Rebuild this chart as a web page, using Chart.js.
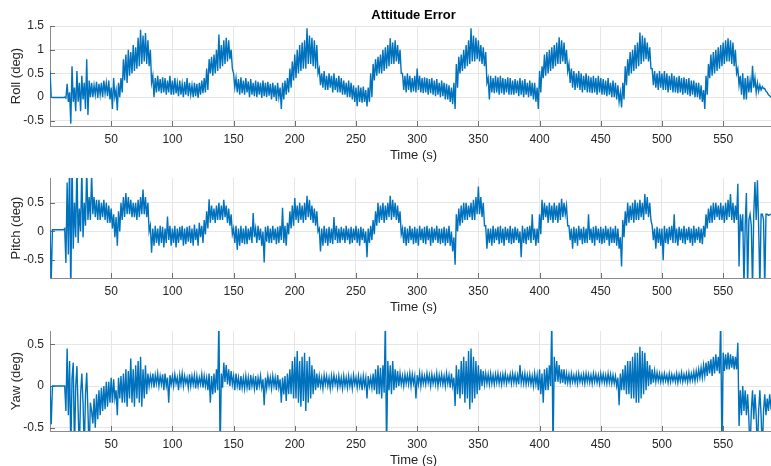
<!DOCTYPE html>
<html>
<head>
<meta charset="utf-8">
<title>Attitude Error</title>
<script src="https://cdn.jsdelivr.net/npm/chart.js@4.4.0/dist/chart.umd.min.js"></script>
<style>
  body { margin: 0; background: #fff; }
  #wrap { position: relative; width: 771px; height: 466px; overflow: hidden; }
  #wrap canvas { position: absolute; left: 0; }
  .title { position: absolute; left: 0; width: 827px; top: 7px; line-height: 18px; text-align: center;
           font: bold 13px "Liberation Sans", Arial, sans-serif; color: #000; }
</style>
</head>
<body>
<div id="wrap">
  <canvas id="rollChart" width="777" height="165"></canvas>
  <canvas id="pitchChart" width="777" height="165"></canvas>
  <canvas id="yawChart" width="777" height="165"></canvas>
  <div class="title">Attitude Error</div>
</div>
<script>
// readings, one value per second: *Even at t = 0,2,4.. and *Odd at t = 1,3,5..
const timeMax = 594;
const timeTicks = [50, 100, 150, 200, 250, 300, 350, 400, 450, 500, 550];

const rollTicks = [-0.5, 0, 0.5, 1, 1.5];
const pitchTicks = [-0.5, 0, 0.5];
const yawTicks = [-0.5, 0, 0.5];

const rollRange = [-0.61, 1.5];
const pitchRange = [-0.81, 0.93];
const yawRange = [-0.54, 0.66];

const rollEven = [
  0.55, -0.01, -0.01, -0.01, -0.01, -0.01, 0.0, 0.28, 0.1, 0.65,
  0.2, 0.55, 0.3, 0.45, 0.3, 0.8, 0.35, 0.3, 0.25, 0.32,
  0.28, 0.3, 0.35, 0.3, 0.35, 0.2, 0.4, 0.15, 0.3, 0.4,
  0.8, 0.9, 1.0, 0.95, 1.1, 1.05, 1.25, 1.42, 1.3, 1.35,
  1.2, 1.0, 0.45, 0.4, 0.45, 0.38, 0.42, 0.4, 0.35, 0.45,
  0.35, 0.4, 0.3, 0.35, 0.28, 0.32, 0.4, 0.3, 0.25, 0.3,
  0.28, 0.3, 0.35, 0.4, 0.6, 0.8, 0.85, 0.9, 1.0, 1.32,
  1.1, 1.2, 1.25, 1.2, 1.0, 0.5, 0.4, 0.38, 0.42, 0.35,
  0.4, 0.33, 0.38, 0.3, 0.35, 0.32, 0.3, 0.35, 0.3, 0.32,
  0.28, 0.3, 0.25, 0.3, 0.2, 0.3, 0.35, 0.4, 0.6, 0.75,
  0.9, 1.0, 1.1, 1.15, 1.2, 1.45, 1.3, 1.25, 1.2, 1.1,
  0.6, 0.5, 0.55, 0.45, 0.5, 0.45, 0.5, 0.4, 0.45, 0.4,
  0.35, 0.3, 0.35, 0.3, 0.25, 0.2, 0.25, 0.2, 0.22, 0.15,
  0.2, 0.5, 0.7, 0.8, 0.85, 0.9, 1.0, 1.05, 1.1, 1.24,
  1.15, 1.2, 1.1, 1.0, 0.5, 0.45, 0.5, 0.45, 0.4, 0.45,
  0.6, 0.45, 0.4, 0.42, 0.4, 0.38, 0.4, 0.35, 0.38, 0.3,
  0.35, 0.3, 0.28, 0.25, 0.2, 0.3, 0.7, 0.85, 0.9, 1.0,
  1.1, 1.2, 1.45, 1.3, 1.25, 1.2, 1.1, 1.05, 0.95, 0.4,
  0.45, 0.4, 0.45, 0.42, 0.45, 0.4, 0.38, 0.42, 0.4, 0.35,
  0.38, 0.35, 0.4, 0.35, 0.38, 0.3, 0.35, 0.3, 0.3, 0.2,
  0.55, 0.65, 0.9, 0.95, 1.0, 1.05, 1.1, 1.15, 1.26, 1.2,
  1.15, 1.0, 0.7, 0.6, 0.55, 0.5, 0.55, 0.5, 0.45, 0.5,
  0.45, 0.42, 0.45, 0.4, 0.45, 0.4, 0.38, 0.35, 0.4, 0.3,
  0.35, 0.3, 0.25, 0.1, 0.3, 0.65, 0.8, 0.95, 1.0, 1.1,
  1.15, 1.36, 1.3, 1.25, 1.15, 1.05, 0.6, 0.55, 0.5, 0.55,
  0.5, 0.55, 0.5, 0.45, 0.5, 0.45, 0.42, 0.45, 0.4, 0.42,
  0.38, 0.4, 0.35, 0.35, 0.3, 0.3, 0.25, 0.15, 0.45, 0.7,
  0.9, 0.95, 1.0, 1.05, 1.1, 1.15, 1.2, 1.24, 1.2, 1.15,
  1.0, 0.6, 0.45, 0.5, 0.4, 0.45, 0.35, 0.66, 0.4, 0.3,
  0.25, 0.22, 0.18, 0.1, 0.03, 0.0, -0.01, -0.02
];
const rollOdd = [
  0.0, -0.01, -0.01, -0.01, -0.01, -0.01, -0.02, -0.1, -0.56, -0.1,
  -0.3, -0.1, -0.3, -0.05, -0.25, -0.38, 0.0, 0.0, 0.05, -0.02,
  0.05, 0.0, 0.08, 0.02, -0.05, -0.25, 0.0, -0.28, 0.0, 0.1,
  0.35, 0.3, 0.45, 0.5, 0.55, 0.6, 0.65, 0.7, 0.75, 0.7,
  0.65, 0.3, 0.0, 0.1, 0.12, 0.08, 0.1, 0.05, 0.1, 0.05,
  0.05, 0.08, 0.02, 0.05, 0.0, 0.05, 0.02, 0.05, 0.0, 0.02,
  -0.02, 0.05, 0.08, 0.1, 0.15, 0.5, 0.45, 0.5, 0.55, 0.6,
  0.65, 0.7, 0.75, 0.8, 0.6, 0.2, 0.1, 0.05, 0.08, 0.05,
  0.1, 0.0, 0.05, 0.02, 0.0, 0.05, -0.02, 0.02, 0.0, 0.03,
  -0.05, 0.0, -0.08, 0.0, -0.25, -0.05, 0.05, 0.1, 0.2, 0.35,
  0.4, 0.5, 0.55, 0.6, 0.6, 0.7, 0.7, 0.65, 0.6, 0.5,
  0.25, 0.2, 0.15, 0.15, 0.2, 0.1, 0.15, 0.1, 0.1, 0.05,
  0.05, 0.0, 0.0, -0.05, -0.1, -0.19, -0.1, -0.12, -0.1, -0.2,
  -0.1, 0.0, 0.35, 0.45, 0.5, 0.5, 0.55, 0.6, 0.65, 0.7,
  0.7, 0.75, 0.7, 0.5, 0.15, 0.1, 0.15, 0.1, 0.12, 0.1,
  0.15, 0.1, 0.08, 0.1, 0.05, 0.08, 0.05, 0.02, 0.05, 0.0,
  0.02, -0.05, -0.05, -0.1, -0.15, -0.25, 0.2, 0.5, 0.55, 0.6,
  0.65, 0.7, 0.75, 0.75, 0.8, 0.75, 0.7, 0.65, 0.3, -0.05,
  0.1, 0.08, 0.1, 0.05, 0.08, 0.05, 0.1, 0.05, 0.05, 0.05,
  0.08, 0.02, 0.05, 0.0, 0.05, 0.0, 0.02, -0.05, -0.1, -0.25,
  0.1, 0.4, 0.45, 0.5, 0.55, 0.6, 0.65, 0.7, 0.7, 0.75,
  0.7, 0.55, 0.3, 0.2, 0.15, 0.2, 0.15, 0.1, 0.15, 0.1,
  0.1, 0.08, 0.1, 0.05, 0.1, 0.05, 0.05, 0.02, 0.05, 0.0,
  0.0, -0.05, -0.1, -0.22, -0.05, 0.25, 0.45, 0.5, 0.55, 0.6,
  0.65, 0.7, 0.75, 0.8, 0.75, 0.6, 0.25, 0.2, 0.15, 0.2,
  0.15, 0.15, 0.1, 0.15, 0.1, 0.1, 0.08, 0.1, 0.05, 0.08,
  0.05, 0.02, 0.05, 0.0, 0.0, -0.05, -0.1, -0.25, 0.05, 0.4,
  0.45, 0.5, 0.55, 0.6, 0.65, 0.7, 0.75, 0.75, 0.7, 0.65,
  0.5, 0.25, 0.05, -0.05, -0.05, 0.1, 0.1, 0.2, 0.1, 0.12,
  0.15, 0.18, 0.12, 0.05, 0.0, -0.01, -0.02, -0.02
];

const pitchEven = [
  0.03, 0.03, 0.03, 0.03, 0.03, 0.03, 0.05, 0.85, 1.3, 1.3,
  0.5, 1.2, 0.4, 1.1, 0.5, 1.1, 0.6, 1.0, 0.6, 0.55,
  0.55, 0.5, 0.55, 0.5, 0.45, 0.4, 0.3, 0.25, 0.35, 0.5,
  0.6, 0.67, 0.6, 0.55, 0.5, 0.5, 0.55, 0.6, 0.73, 0.6,
  0.5, 0.1, 0.05, 0.1, 0.05, 0.1, 0.08, 0.05, 0.26, 0.1,
  0.05, 0.1, 0.05, 0.08, 0.1, 0.05, 0.08, 0.1, 0.05, 0.12,
  0.05, 0.15, 0.1, 0.2, 0.35, 0.56, 0.45, 0.4, 0.45, 0.5,
  0.45, 0.55, 0.45, 0.4, 0.3, 0.05, 0.1, 0.05, 0.1, 0.05,
  0.1, 0.05, 0.08, 0.32, 0.05, 0.1, 0.05, 0.0, 0.08, 0.1,
  0.05, 0.1, 0.05, 0.08, 0.1, 0.41, 0.1, 0.15, 0.35, 0.45,
  0.58, 0.45, 0.5, 0.45, 0.5, 0.62, 0.55, 0.45, 0.4, 0.35,
  0.05, 0.05, 0.1, 0.05, 0.08, 0.05, 0.25, 0.1, 0.05, 0.08,
  0.05, 0.1, 0.05, 0.08, 0.05, 0.1, 0.05, 0.08, 0.05, 0.0,
  0.05, 0.1, 0.2, 0.35, 0.5, 0.45, 0.5, 0.45, 0.5, 0.62,
  0.55, 0.5, 0.45, 0.35, 0.05, 0.08, 0.05, 0.1, 0.05, 0.08,
  0.05, 0.1, 0.05, 0.08, 0.1, 0.05, 0.08, 0.05, 0.1, 0.05,
  0.05, 0.08, 0.05, 0.1, 0.0, -0.1, 0.3, 0.4, 0.45, 0.5,
  0.5, 0.45, 0.5, 0.55, 0.6, 0.78, 0.6, 0.5, 0.1, 0.05,
  0.05, 0.1, 0.05, 0.08, 0.1, 0.05, 0.08, 0.05, 0.1, 0.05,
  0.08, 0.05, 0.0, 0.1, 0.05, 0.08, 0.1, 0.3, 0.05, 0.05,
  0.3, 0.55, 0.5, 0.45, 0.5, 0.45, 0.5, 0.45, 0.5, 0.57,
  0.5, 0.45, 0.1, 0.05, 0.08, 0.05, 0.1, 0.05, 0.08, 0.05,
  0.3, 0.05, 0.08, 0.1, 0.05, 0.08, 0.05, 0.1, 0.05, 0.08,
  0.05, 0.1, 0.05, -0.1, 0.2, 0.35, 0.5, 0.45, 0.5, 0.55,
  0.5, 0.55, 0.5, 0.65, 0.6, 0.5, 0.1, 0.05, 0.08, 0.05,
  0.05, 0.1, 0.05, 0.08, 0.1, 0.3, 0.05, 0.08, 0.05, 0.1,
  0.05, 0.08, 0.05, 0.1, 0.05, 0.08, 0.05, 0.1, 0.3, 0.4,
  0.45, 0.5, 0.5, 0.45, 0.5, 0.45, 0.5, 0.55, 0.65, 0.5,
  0.45, 0.83, 0.3, 0.3, 0.1, -1.0, 0.3, -1.0, 0.86, 0.89,
  -1.0, 0.3, -1.0, 0.3, 0.29, 0.3, 0.3, 0.3
];
const pitchOdd = [
  -0.85, 0.03, 0.03, 0.03, 0.03, 0.03, -0.55, -0.4, -1.2, -0.3,
  -0.1, -0.2, 0.0, -0.1, 0.1, 0.2, 0.2, 0.3, 0.25, 0.2,
  0.2, 0.25, 0.2, 0.15, 0.15, 0.05, -0.1, -0.25, 0.0, 0.2,
  0.25, 0.3, 0.3, 0.25, 0.25, 0.2, 0.25, 0.3, 0.3, 0.25,
  0.0, -0.37, -0.25, -0.2, -0.25, -0.2, -0.28, -0.2, -0.15, -0.25,
  -0.2, -0.28, -0.2, -0.15, -0.25, -0.22, -0.18, -0.2, -0.25, -0.15,
  -0.25, -0.1, -0.2, -0.05, 0.05, 0.15, 0.2, 0.15, 0.2, 0.2,
  0.2, 0.25, 0.15, 0.1, -0.05, -0.2, -0.32, -0.25, -0.2, -0.22,
  -0.22, -0.15, -0.2, -0.1, -0.2, -0.15, -0.25, -0.54, -0.18, -0.2,
  -0.2, -0.15, -0.22, -0.2, -0.15, -0.2, -0.25, -0.05, 0.05, 0.1,
  0.2, 0.15, 0.2, 0.15, 0.2, 0.25, 0.2, 0.15, 0.1, 0.0,
  -0.35, -0.25, -0.2, -0.25, -0.2, -0.22, -0.15, -0.2, -0.2, -0.15,
  -0.2, -0.15, -0.22, -0.2, -0.15, -0.2, -0.25, -0.15, -0.2, -0.45,
  -0.2, -0.15, -0.05, 0.1, 0.15, 0.2, 0.15, 0.2, 0.25, 0.2,
  0.25, 0.2, 0.15, -0.05, -0.2, -0.25, -0.2, -0.15, -0.22, -0.2,
  -0.25, -0.15, -0.2, -0.22, -0.15, -0.25, -0.2, -0.15, -0.2, -0.22,
  -0.2, -0.25, -0.2, -0.25, -0.35, -0.58, 0.0, 0.1, 0.15, 0.2,
  0.2, 0.25, 0.2, 0.2, 0.3, 0.3, 0.25, 0.1, -0.3, -0.2,
  -0.25, -0.2, -0.15, -0.22, -0.2, -0.25, -0.15, -0.2, -0.22, -0.2,
  -0.15, -0.2, -0.45, -0.2, -0.22, -0.15, -0.2, -0.15, -0.25, -0.2,
  -0.05, 0.2, 0.25, 0.15, 0.2, 0.15, 0.2, 0.15, 0.2, 0.25,
  0.3, 0.1, -0.15, -0.3, -0.2, -0.25, -0.15, -0.22, -0.2, -0.2,
  -0.15, -0.2, -0.25, -0.15, -0.2, -0.22, -0.2, -0.15, -0.25, -0.2,
  -0.2, -0.25, -0.3, -0.61, -0.1, 0.1, 0.15, 0.2, 0.15, 0.2,
  0.2, 0.25, 0.2, 0.3, 0.25, 0.2, -0.15, -0.3, -0.2, -0.25,
  -0.5, -0.2, -0.22, -0.15, -0.2, -0.2, -0.25, -0.15, -0.2, -0.22,
  -0.15, -0.2, -0.25, -0.2, -0.15, -0.2, -0.22, -0.1, 0.05, 0.15,
  0.15, 0.2, 0.25, 0.2, 0.2, 0.15, 0.2, 0.25, 0.2, 0.15,
  0.2, -0.61, 0.0, -1.0, 0.67, 0.2, 0.1, 0.3, 0.2, 0.1,
  0.3, 0.2, 0.3, 0.28, 0.3, 0.29, 0.3, 0.3
];

const yawEven = [
  0.0, 0.0, 0.0, 0.0, 0.0, 0.0, 0.0, 0.45, 0.3, 0.1,
  -0.8, 0.24, -0.8, 0.15, -0.8, 0.16, -0.8, -0.3, -0.15, -0.1,
  -0.05, -0.02, 0.0, 0.05, 0.05, 0.1, 0.08, -0.05, 0.1, 0.12,
  0.15, 0.2, 0.18, 0.33, 0.2, 0.25, 0.3, 0.35, 0.2, 0.25,
  0.15, 0.12, 0.15, 0.13, 0.15, 0.12, 0.14, 0.15, 0.1, 0.13,
  0.12, 0.14, 0.1, 0.13, 0.15, 0.12, 0.1, 0.14, 0.12, 0.13,
  0.12, 0.1, 0.14, 0.12, 0.1, 0.15, 0.12, 0.15, 0.2, 0.8,
  0.15, 0.28, 0.25, 0.2, 0.18, 0.12, 0.15, 0.1, 0.12, 0.1,
  0.12, 0.1, 0.13, 0.1, 0.12, 0.1, 0.12, 0.08, 0.1, 0.12,
  0.1, 0.12, 0.1, 0.13, 0.08, 0.1, 0.12, 0.15, 0.2, 0.3,
  0.35, 0.42, 0.3, 0.35, 0.4, 0.3, 0.35, 0.25, 0.2, 0.15,
  0.12, 0.1, 0.13, 0.12, 0.1, 0.12, 0.13, 0.1, 0.12, 0.1,
  0.12, 0.1, 0.12, 0.1, 0.13, 0.1, 0.12, 0.1, 0.12, 0.1,
  0.12, 0.1, 0.15, 0.2, 0.25, 0.22, 0.25, 0.8, 0.3, 0.25,
  0.3, 0.2, 0.18, 0.15, 0.12, 0.14, 0.13, 0.15, 0.14, 0.12,
  0.13, 0.15, 0.14, 0.12, 0.15, 0.13, 0.14, 0.12, 0.15, 0.13,
  0.14, 0.12, 0.15, 0.13, 0.15, 0.1, 0.25, 0.2, 0.3, 0.35,
  0.3, 0.42, 0.45, 0.35, 0.3, 0.25, 0.2, 0.18, 0.15, 0.14,
  0.15, 0.13, 0.14, 0.15, 0.13, 0.14, 0.15, 0.12, 0.14, 0.15,
  0.14, 0.13, 0.25, 0.14, 0.15, 0.13, 0.14, 0.12, 0.15, 0.13,
  0.2, 0.15, 0.2, 0.22, 0.25, 0.8, 0.35, 0.3, 0.25, 0.2,
  0.2, 0.15, 0.14, 0.15, 0.13, 0.14, 0.15, 0.13, 0.14, 0.15,
  0.14, 0.13, 0.15, 0.14, 0.13, 0.15, 0.14, 0.13, 0.15, 0.14,
  0.13, 0.12, 0.1, 0.15, 0.2, 0.25, 0.3, 0.3, 0.35, 0.4,
  0.4, 0.47, 0.42, 0.4, 0.3, 0.25, 0.2, 0.18, 0.16, 0.15,
  0.14, 0.15, 0.13, 0.15, 0.14, 0.13, 0.15, 0.14, 0.16, 0.14,
  0.15, 0.16, 0.15, 0.17, 0.18, 0.2, 0.22, 0.25, 0.28, 0.3,
  0.32, 0.35, 0.38, 0.35, 0.8, 0.4, 0.38, 0.4, 0.38, 0.36,
  0.35, 0.52, -0.05, 0.0, -0.05, -0.1, -0.8, -0.05, -0.1, -0.8,
  -0.05, -0.8, -0.1, -0.15, -0.1, -0.2, -0.12, -0.15
];
const yawOdd = [
  -0.46, 0.0, 0.0, 0.0, 0.0, 0.0, -0.3, -0.35, -0.8, 0.28,
  0.0, -0.3, -0.1, -0.2, -0.1, -0.3, -0.2, -0.45, -0.5, -0.4,
  -0.35, -0.3, -0.28, -0.25, -0.2, -0.2, -0.15, -0.35, -0.15, -0.2,
  -0.2, -0.25, -0.15, -0.2, -0.25, -0.15, -0.2, -0.25, -0.15, -0.1,
  0.0, 0.02, -0.02, 0.03, 0.0, 0.02, -0.05, 0.0, -0.2, 0.02,
  0.0, 0.03, -0.05, 0.02, 0.0, 0.03, -0.02, 0.0, 0.02, -0.03,
  0.0, 0.02, -0.02, 0.0, -0.05, -0.2, -0.1, -0.08, -0.05, -0.8,
  -0.02, 0.05, 0.02, 0.0, 0.02, -0.05, 0.0, -0.05, -0.02, -0.03,
  -0.02, -0.05, 0.0, -0.03, -0.05, 0.0, -0.02, -0.23, -0.03, 0.0,
  -0.03, 0.0, -0.05, -0.02, -0.2, -0.1, -0.18, -0.1, -0.1, -0.15,
  -0.15, -0.2, -0.25, -0.18, -0.3, -0.2, -0.15, -0.1, -0.05, -0.02,
  0.0, -0.03, 0.02, 0.0, -0.03, 0.0, 0.02, -0.02, 0.0, -0.03,
  0.0, -0.02, 0.0, -0.03, 0.02, -0.02, 0.0, -0.05, 0.0, -0.15,
  0.0, -0.02, -0.05, -0.1, -0.1, -0.15, -0.08, -0.8, -0.05, -0.1,
  -0.05, -0.02, 0.0, 0.02, 0.0, 0.03, 0.02, 0.0, 0.03, -0.15,
  0.02, 0.0, 0.03, 0.02, 0.04, 0.0, 0.03, 0.02, 0.0, 0.03,
  0.02, 0.0, 0.03, -0.02, 0.0, -0.24, -0.1, -0.15, -0.1, -0.2,
  -0.15, -0.28, -0.2, -0.15, -0.1, -0.05, 0.0, 0.02, 0.03, 0.02,
  0.03, 0.02, 0.04, 0.03, 0.02, 0.04, 0.03, 0.05, 0.03, 0.04,
  0.03, 0.02, 0.04, 0.03, 0.02, 0.03, 0.02, 0.0, 0.02, -0.05,
  -0.1, -0.2, -0.05, -0.05, 0.0, -0.8, 0.05, 0.05, 0.03, 0.04,
  0.02, 0.04, 0.03, 0.05, 0.04, 0.03, 0.05, 0.04, 0.03, 0.05,
  0.04, 0.03, 0.05, 0.04, 0.03, 0.05, 0.04, 0.03, 0.04, 0.03,
  0.03, 0.0, -0.23, -0.05, -0.05, -0.1, -0.1, -0.15, -0.15, -0.2,
  -0.2, -0.15, -0.1, -0.05, 0.0, 0.02, 0.04, 0.05, 0.06, 0.05,
  0.05, 0.06, 0.04, 0.05, 0.06, 0.05, 0.04, 0.06, 0.05, 0.06,
  0.05, 0.06, 0.07, 0.06, 0.08, 0.1, 0.1, 0.12, 0.12, 0.15,
  0.12, 0.15, 0.18, 0.15, -0.8, 0.18, 0.2, 0.2, 0.22, 0.2,
  0.2, -0.48, -0.35, -0.3, -0.35, -0.4, -0.3, -0.4, -0.35, -0.3,
  -0.35, -0.3, -0.35, -0.3, -0.25, -0.15, -0.15, -0.15
];

const lineColor = '#0072BD';
const gridColor = '#e6e6e6';
const axisColor = '#8a8a8a';
const textColor = '#262626';
const fontFamily = '"Liberation Sans", Arial, Helvetica, sans-serif';

// even and odd second readings back into one time series
function toPoints(evenVals, oddVals) {
  const pts = [];
  evenVals.forEach((v, i) => {
    pts.push({ x: i * 2, y: v });
    pts.push({ x: i * 2 + 1, y: oddVals[i] });
  });
  return pts;
}

// small inward tick marks like matlab
const tickMarks = {
  id: 'tickMarks',
  beforeDatasetsDraw(chart) {
    const { ctx, chartArea, scales: { x, y } } = chart;
    ctx.save();
    ctx.strokeStyle = '#6e6e6e';
    ctx.lineWidth = 1;
    ctx.beginPath();
    x.ticks.forEach(t => {
      const px = Math.round(x.getPixelForValue(t.value)) + 0.5;
      ctx.moveTo(px, chartArea.bottom);
      ctx.lineTo(px, chartArea.bottom - 5);
    });
    y.ticks.forEach(t => {
      const py = Math.round(y.getPixelForValue(t.value)) + 0.5;
      ctx.moveTo(chartArea.left, py);
      ctx.lineTo(chartArea.left + 5, py);
    });
    ctx.stroke();
    ctx.restore();
  }
};

function makePanel(id, top, evenVals, oddVals, range, ticks, label) {
  const canvas = document.getElementById(id);
  canvas.style.top = top + 'px';
  return new Chart(canvas, {
    type: 'line',
    data: {
      datasets: [{
        data: toPoints(evenVals, oddVals),
        borderColor: lineColor,
        borderWidth: 1.4,
        pointRadius: 0,
        tension: 0
      }]
    },
    options: {
      responsive: false,
      animation: false,
      devicePixelRatio: 1,
      layout: { padding: { top: 26, left: 0, right: 0, bottom: 0 } },
      plugins: { legend: { display: false }, tooltip: { enabled: false } },
      scales: {
        x: {
          type: 'linear',
          min: 0,
          max: timeMax,
          afterFit: s => { s.height = 39; },
          afterBuildTicks: s => { s.ticks = timeTicks.map(v => ({ value: v })); },
          grid: { color: gridColor, drawTicks: false },
          border: { color: axisColor },
          ticks: { padding: 6, color: textColor, font: { family: fontFamily, size: 12 }, maxRotation: 0, autoSkip: false },
          title: { display: true, text: 'Time (s)', color: textColor, font: { family: fontFamily, size: 13 }, padding: { top: 0, bottom: 2 } }
        },
        y: {
          type: 'linear',
          min: range[0],
          max: range[1],
          afterFit: s => { s.width = 50; },
          afterBuildTicks: s => { s.ticks = ticks.map(v => ({ value: v })); },
          grid: { color: gridColor, drawTicks: false },
          border: { color: axisColor },
          ticks: { padding: 6, color: textColor, font: { family: fontFamily, size: 12 }, callback: v => String(v) },
          title: { display: true, text: label, color: textColor, font: { family: fontFamily, size: 13 }, padding: { top: 9, bottom: 0 } }
        }
      }
    },
    plugins: [tickMarks]
  });
}

makePanel('rollChart', 0, rollEven, rollOdd, rollRange, rollTicks, 'Roll (deg)');
makePanel('pitchChart', 152, pitchEven, pitchOdd, pitchRange, pitchTicks, 'Pitch (deg)');
makePanel('yawChart', 305, yawEven, yawOdd, yawRange, yawTicks, 'Yaw (deg)');
</script>
</body>
</html>
